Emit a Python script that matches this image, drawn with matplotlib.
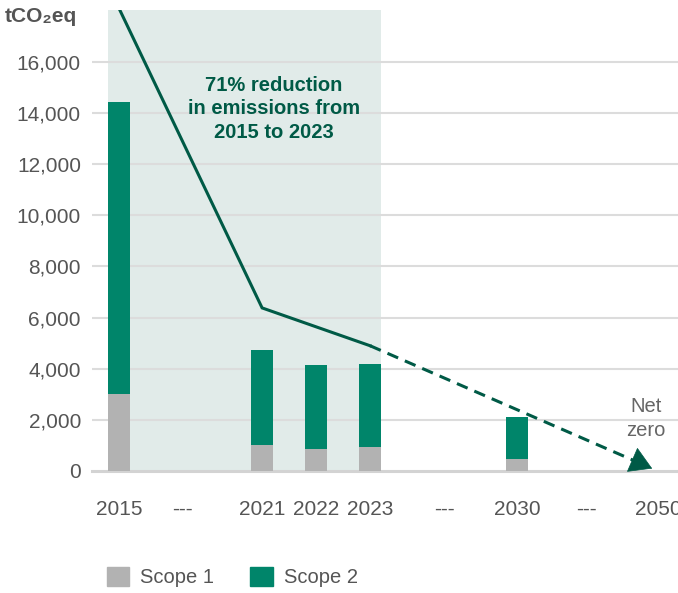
import matplotlib
matplotlib.use("Agg")
import matplotlib.pyplot as plt
from matplotlib.patches import Patch

plt.rcParams['font.family'] = ['Liberation Sans', 'DejaVu Sans']

# data
axis_labels = ['2015', '---', '2021', '2022', '2023', '---', '2030', '---', '2050']
bar_years = ['2015', '2021', '2022', '2023', '2030']
scope1 = [3010, 1030, 860, 940, 470]
scope2 = [11430, 3700, 3290, 3250, 1650]
trend_years = ['2015', '2021', '2023']
trend_vals = [18100, 6380, 4900]
target_years = ['2023', '2050']
target_vals = [4900, 0]

# layout: x slot of each axis label (uneven spacing like the source)
slots = [0.5, 1.67, 3.15, 4.15, 5.15, 6.52, 7.87, 9.15, 10.48]
xpos = {lab: s for lab, s in zip(axis_labels, slots) if lab != '---'}

GREEN = '#00856a'
DARK = '#005a46'
GREY = '#b2b2b2'
SHADE = '#e1ebe9'
TXT = '#555555'

fig = plt.figure(figsize=(6.78, 5.93), dpi=100)
ax = fig.add_axes([92/678, 122/593, 586/678, 461/593])

bw = 0.407
bx = [xpos[y] for y in bar_years]
ax.axvspan(xpos['2015'] - bw/2, xpos['2023'] + bw/2, color=SHADE, zorder=0, lw=0)
ax.bar(bx, scope1, width=bw, color=GREY, zorder=2)
ax.bar(bx, scope2, width=bw, bottom=scope1, color=GREEN, zorder=2)

ax.plot([xpos[y] for y in trend_years], trend_vals, color=DARK, lw=2.2, zorder=3,
        solid_joinstyle='miter')

# dashed target line ending in an arrow head short of 2050
x0, x1 = xpos[target_years[0]], xpos[target_years[1]]
y0, y1 = target_vals
f_base, f_tip = 0.915, 0.98
ax.plot([x0, x0 + f_base*(x1-x0)], [y0, y0 + f_base*(y1-y0)], color=DARK, lw=2.2,
        dashes=(3.8, 2.4), zorder=3)
ax.annotate('', xy=(x0 + f_tip*(x1-x0), y0 + f_tip*(y1-y0)),
            xytext=(x0 + f_base*(x1-x0), y0 + f_base*(y1-y0)),
            arrowprops=dict(arrowstyle='-|>,head_length=1.5,head_width=0.9',
                            color=DARK, lw=0.5, mutation_scale=10,
                            shrinkA=0, shrinkB=0), zorder=4)

ax.set_xlim(0, 586/54)
ax.set_ylim(0, 18034)
ax.set_yticks(range(0, 16001, 2000))
ax.set_yticklabels([f'{v:,}' for v in range(0, 16001, 2000)])
ax.set_xticks(slots)
ax.set_xticklabels(axis_labels)
ax.tick_params(axis='both', length=0, labelsize=15, labelcolor=TXT)
ax.tick_params(axis='y', pad=8)
ax.tick_params(axis='x', pad=21)
for s in ax.spines.values():
    s.set_visible(False)
for v in range(2000, 16001, 2000):
    ax.axhline(v, color='#dcdcdc', lw=1.5, zorder=1)
ax.axhline(0, color='#d3d3d3', lw=2.2, zorder=1, clip_on=False)

ax.text(3.37, 14180, '71% reduction\nin emissions from\n2015 to 2023', ha='center',
        va='center', fontsize=14.5, fontweight='bold', color=DARK, linespacing=1.3)
ax.text(10.26, 2060, 'Net\nzero', ha='center', va='center', fontsize=14.5,
        color='#666666', linespacing=1.35)

fig.text(5/678, 1 - 17/593, 'tCO₂eq', ha='left', va='center', fontsize=15,
         fontweight='bold', color=TXT)

handles = [Patch(color=GREY, label='Scope 1'), Patch(color=GREEN, label='Scope 2')]
fig.legend(handles=handles, loc='center left', bbox_to_anchor=(107/678, 16/593),
           frameon=False, ncol=2, fontsize=14.5, handlelength=1.1, handleheight=1.1,
           handletextpad=0.55, columnspacing=1.8, borderpad=0, borderaxespad=0,
           labelcolor=TXT)

fig.savefig('out.png', dpi=100)
